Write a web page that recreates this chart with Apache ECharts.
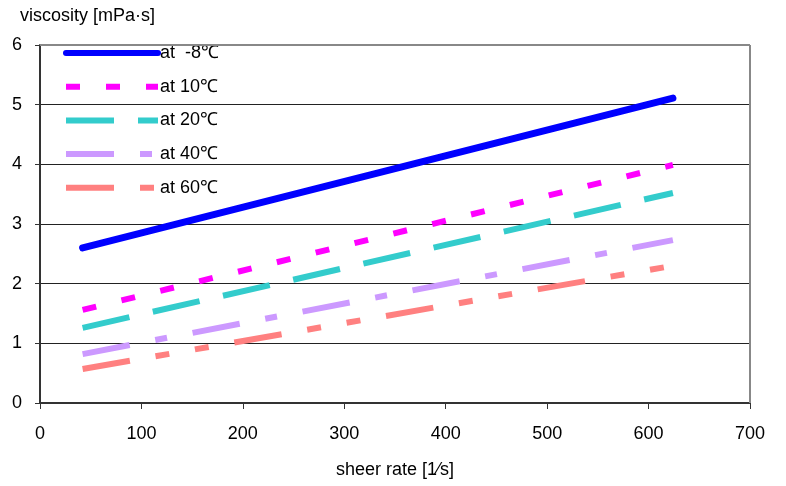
<!DOCTYPE html>
<html><head><meta charset="utf-8">
<script src="https://cdn.jsdelivr.net/npm/echarts@6/dist/echarts.min.js"></script>
<style>html,body{margin:0;padding:0;background:#fff}#c{width:786px;height:486px}</style>
</head><body><div id="c"></div>
<script>
const seriesNames = ['at  -8\u2103', 'at 10\u2103', 'at 20\u2103', 'at 40\u2103', 'at 60\u2103'];
const shearRates = [42, 624];
const vMinus8 = [2.60, 5.11];
const v10 = [1.56, 3.99];
const v20 = [1.26, 3.52];
const v40 = [0.82, 2.73];
const v60 = [0.57, 2.30];
const yTicks = [0, 1, 2, 3, 4, 5, 6];
const xTicks = [0, 100, 200, 300, 400, 500, 600, 700];

const values = [vMinus8, v10, v20, v40, v60];
const colors = ['#0000ff', '#ff00ff', '#33cccc', '#cc99ff', '#ff8080'];
const dashes = ['solid', [14, 26], [48, 24], [48, 26, 12, 26], [48, 26, 14, 26, 14, 26]];
const caps = ['round', 'butt', 'butt', 'butt', 'butt'];

const chart = echarts.init(document.getElementById('c'));
const font = 'Liberation Sans, Arial, sans-serif';
chart.setOption({
  animation: false,
  grid: { left: 40, right: 36, top: 45, bottom: 83 },
  xAxis: {
    type: 'value', min: 0, max: 700, interval: 100,
    name: 'sheer rate [1\u2044s]', nameLocation: 'middle', nameGap: 58,
    nameTextStyle: { fontSize: 18, color: '#000', fontFamily: font },
    axisLine: { show: true, lineStyle: { color: '#333', width: 2 } },
    axisTick: { show: true, inside: false, length: 6, lineStyle: { color: '#333' } },
    axisLabel: { fontSize: 18, color: '#000', fontFamily: font, margin: 22,
      formatter: v => xTicks.includes(v) ? String(v) : '' },
    splitLine: { show: false }
  },
  yAxis: {
    type: 'value', min: 0, max: 6, interval: 1,
    name: 'viscosity [mPa\u00b7s]', nameLocation: 'end', nameGap: 20,
    nameTextStyle: { fontSize: 18, color: '#000', fontFamily: font, align: 'left', padding: [0, 0, 0, -20] },
    axisLine: { show: true, lineStyle: { color: '#333', width: 2 } },
    axisTick: { show: true, inside: false, length: 5, lineStyle: { color: '#333' } },
    axisLabel: { fontSize: 18, color: '#000', fontFamily: font, margin: 18,
      formatter: v => yTicks.includes(v) ? String(v) : '' },
    splitLine: { show: true, lineStyle: { color: '#222', width: 1 } }
  },
  legend: {
    left: 58, top: 39, orient: 'vertical', itemWidth: 92, itemHeight: 18, itemGap: 15.7,
    textStyle: { fontSize: 18, color: '#000', fontFamily: font, padding: [0, 0, 0, -3] },
    itemStyle: { opacity: 0 },
    lineStyle: { width: 6 },
    data: seriesNames
  },
  series: seriesNames.map((n, i) => ({
    name: n, type: 'line', symbol: 'none', silent: true,
    data: shearRates.map((x, j) => [x, values[i][j]]),
    lineStyle: { color: colors[i], width: i === 0 ? 7 : 6, type: dashes[i], cap: caps[i] },
    itemStyle: { color: colors[i] }
  })).concat([{
    name: 'frame', type: 'line', silent: true, data: [], markLine: {
      silent: true, symbol: 'none', label: { show: false },
      lineStyle: { color: '#888', width: 2, type: 'solid' },
      data: [[{ coord: [0, 6] }, { coord: [700, 6] }], [{ coord: [700, 0] }, { coord: [700, 6] }]]
    }
  }])
});
</script></body></html>
